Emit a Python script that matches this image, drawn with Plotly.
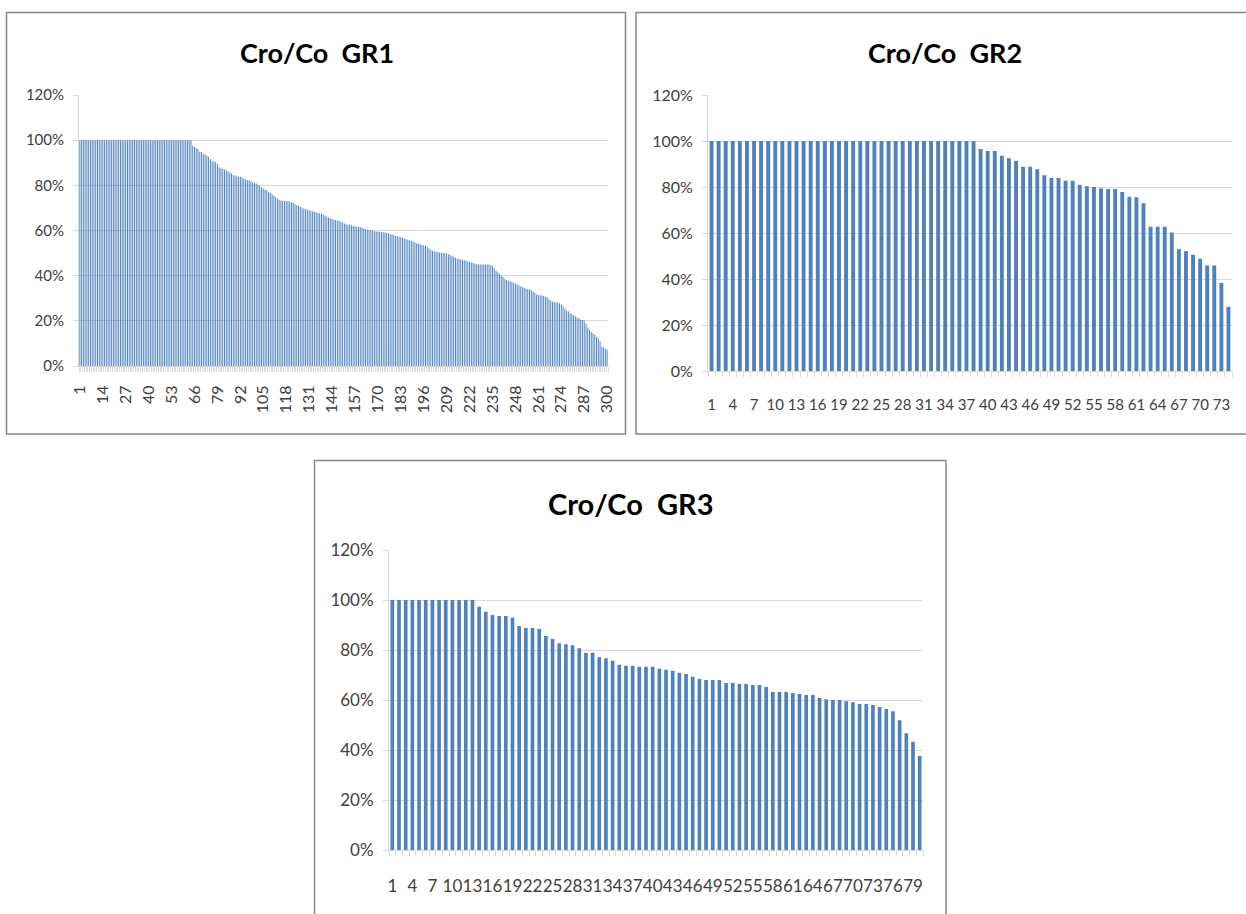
import plotly.graph_objects as go

W, H = 1246, 914

# ---------------- data ----------------
titles = ["Cro/Co  GR1", "Cro/Co  GR2", "Cro/Co  GR3"]

gr1_values = [
    100, 100, 100, 100, 100, 100, 100, 100, 100, 100,
    100, 100, 100, 100, 100, 100, 100, 100, 100, 100,
    100, 100, 100, 100, 100, 100, 100, 100, 100, 100,
    100, 100, 100, 100, 100, 100, 100, 100, 100, 100,
    100, 100, 100, 100, 100, 100, 100, 100, 100, 100,
    100, 100, 100, 100, 100, 100, 100, 100, 100, 100,
    100, 100, 100, 100, 97.5, 97, 96.5, 96, 95, 94.8,
    94, 93.6, 93.2, 92.5, 91.5, 90.7, 90.6, 90.3, 89.5, 88,
    87.5, 87.2, 87, 86.6, 86.2, 85.7, 85.2, 84.6, 84.3, 84,
    83.9, 83.8, 83.5, 83, 82.6, 82.4, 82.2, 81.8, 81.4, 81.1,
    80.8, 80.4, 79.8, 79.2, 78.6, 78.2, 77.8, 77.2, 76.7, 76.1,
    75.5, 74.8, 74.2, 73.6, 73.3, 73.2, 73.1, 73, 72.9, 72.7,
    72.5, 72.3, 71.6, 71.2, 70.9, 70.5, 70.1, 69.7, 69.4, 69.2,
    69, 68.8, 68.5, 68.3, 68.1, 67.8, 67.6, 67.3, 67, 66.6,
    66.2, 65.8, 65.4, 65.1, 64.9, 64.7, 64.5, 64.2, 63.9, 63.5,
    63.1, 62.8, 62.6, 62.5, 62.3, 62.1, 61.9, 61.7, 61.6, 61.5,
    61.2, 60.9, 60.6, 60.4, 60.2, 60.1, 60, 59.8, 59.6, 59.5,
    59.4, 59.3, 59.2, 59.1, 59, 58.8, 58.5, 58.2, 57.9, 57.6,
    57.4, 57.2, 57, 56.8, 56.5, 56.2, 55.9, 55.7, 55.3, 55,
    54.7, 54.4, 54.1, 53.9, 53.6, 53.4, 53.2, 52.6, 52, 51.4,
    51, 50.8, 50.6, 50.4, 50.3, 50.2, 50, 49.9, 49.8, 49.5,
    49.1, 48.7, 48.3, 47.9, 47.6, 47.4, 47.2, 47, 46.8, 46.6,
    46.4, 46.1, 45.8, 45.6, 45.3, 45.1, 45, 44.9, 44.9, 44.9,
    44.9, 44.9, 44.9, 44.7, 44.3, 43.3, 42.2, 41.5, 40.8, 40.1,
    39.4, 38.6, 38.1, 37.8, 37.5, 37.2, 36.8, 36.5, 36.1, 35.7,
    35.3, 34.9, 34.6, 34.3, 34, 33.9, 33.5, 33, 32.4, 31.7,
    31.4, 31.3, 31.2, 31, 30.7, 30.4, 29.6, 28.9, 28.5, 28.3,
    28.2, 28.1, 27.8, 27.3, 26.5, 25.5, 24.6, 24.2, 23.5, 23,
    22.5, 22, 21.5, 21, 20.6, 20.4, 20.2, 18.8, 17.2, 16,
    15.2, 14.5, 13.8, 12.9, 12.2, 11, 8.6, 8.2, 7.8, 7.3,
]

gr2_values = [
    100, 100, 100, 100, 100, 100, 100, 100, 100, 100,
    100, 100, 100, 100, 100, 100, 100, 100, 100, 100,
    100, 100, 100, 100, 100, 100, 100, 100, 100, 100,
    100, 100, 100, 100, 100, 100, 100, 100, 96.5, 95.6,
    95.6, 93.6, 92.5, 91.3, 88.8, 88.8, 87.7, 85.1, 83.9, 83.9,
    82.7, 82.7, 81.0, 80.3, 80.0, 79.4, 79.1, 79.1, 77.8, 75.8,
    75.5, 72.9, 62.7, 62.7, 62.7, 60.2, 53.0, 52.1, 50.5, 48.8,
    45.9, 45.9, 38.3, 27.9,
]

gr3_values = [
    100, 100, 100, 100, 100, 100, 100, 100, 100, 100,
    100, 100, 100, 97.3, 95.3, 94.0, 93.6, 93.6, 92.9, 89.6,
    88.8, 88.8, 88.4, 85.6, 84.4, 82.7, 82.3, 81.9, 80.7, 78.9,
    78.9, 77.1, 76.7, 75.7, 74.1, 73.7, 73.7, 73.3, 73.3, 73.3,
    72.5, 72.1, 71.7, 70.9, 70.4, 69.3, 68.4, 68.0, 68.0, 68.0,
    66.8, 66.8, 66.4, 66.4, 66.0, 66.0, 65.2, 63.2, 63.2, 63.2,
    62.8, 62.4, 62.0, 62.0, 60.8, 60.3, 60.0, 60.0, 59.5, 59.1,
    58.4, 58.4, 58.0, 57.2, 56.4, 55.5, 51.9, 46.7, 43.3, 37.6,
]

gr1_ticks = [1, 14, 27, 40, 53, 66, 79, 92, 105, 118, 131, 144, 157, 170,
             183, 196, 209, 222, 235, 248, 261, 274, 287, 300]
gr2_ticks = [1, 4, 7, 10, 13, 16, 19, 22, 25, 28, 31, 34, 37, 40, 43, 46,
             49, 52, 55, 58, 61, 64, 67, 70, 73]
gr3_ticks = [1, 4, 7, 10, 13, 16, 19, 22, 25, 28, 31, 34, 37, 40, 43, 46,
             49, 52, 55, 58, 61, 64, 67, 70, 73, 76, 79]
y_ticks = [0, 20, 40, 60, 80, 100, 120]

# ---------------- styling ----------------
FONT = "Lato, sans-serif"
BAR = "#4F81BD"
GRID = "#D9D9D9"
TXT = "#404040"
BORDER = "#888888"


def px_x(p):
    return p / W


def px_y(p):
    return 1 - p / H


panels = [
    dict(values=gr1_values, ticks=gr1_ticks, dom_x=(79, 608), dom_y=(95, 366),
         angle=-90, xfont=16, yfont=15, standoff=12, title_xy=(316.5, 52), tfont=27),
    dict(values=gr2_values, ticks=gr2_ticks, dom_x=(708, 1232), dom_y=(95, 371),
         angle=0, xfont=15, yfont=16, standoff=20, title_xy=(945, 52), tfont=27),
    dict(values=gr3_values, ticks=gr3_ticks, dom_x=(389, 923), dom_y=(550, 850),
         angle=0, xfont=17, yfont=17, standoff=21, title_xy=(631, 503), tfont=29),
]

fig = go.Figure()
annotations = []
for i, p in enumerate(panels):
    n = i + 1
    xa = "x" if n == 1 else f"x{n}"
    ya = "y" if n == 1 else f"y{n}"
    xs = list(range(1, len(p["values"]) + 1))
    fig.add_trace(go.Bar(x=xs, y=p["values"], marker=dict(color=BAR, line=dict(width=0)),
                         xaxis=xa, yaxis=ya, showlegend=False, hoverinfo="x+y"))
    xkey = "xaxis" if n == 1 else f"xaxis{n}"
    ykey = "yaxis" if n == 1 else f"yaxis{n}"
    fig.layout[xkey] = dict(
        domain=[px_x(p["dom_x"][0]), px_x(p["dom_x"][1])],
        anchor=ya, range=[0.5, len(p["values"]) + 0.5], automargin=False,
        tickmode="array", tickvals=p["ticks"], ticktext=[str(t) for t in p["ticks"]],
        tickangle=p["angle"], ticks="", showgrid=False, zeroline=False,
        showline=True, linecolor=GRID, linewidth=1,
        tickfont=dict(family=FONT, size=p["xfont"], color=TXT),
        ticklabelstandoff=p["standoff"],
        minor=dict(tick0=0.5, dtick=1, ticks="outside", ticklen=5,
                   tickcolor=GRID, tickwidth=1, showgrid=False),
        fixedrange=True,
    )
    fig.layout[ykey] = dict(
        domain=[px_y(p["dom_y"][1]), px_y(p["dom_y"][0])],
        anchor=xa, range=[0, 120], automargin=False,
        tickmode="array", tickvals=y_ticks,
        ticktext=[f"{v}%" for v in y_ticks],
        showgrid=True, gridcolor=GRID, gridwidth=1, zeroline=False,
        showline=True, linecolor=GRID, linewidth=1,
        ticks="outside", ticklen=5, tickcolor=GRID,
        tickfont=dict(family=FONT, size=p["yfont"], color=TXT),
        ticklabelstandoff=6, fixedrange=True,
    )
    annotations.append(dict(
        text=f"<b>{titles[i]}</b>", xref="paper", yref="paper",
        x=px_x(p["title_xy"][0]), y=px_y(p["title_xy"][1]),
        xanchor="center", yanchor="middle", showarrow=False,
        font=dict(family=FONT, size=p["tfont"], color="#000000"),
    ))

shapes = [
    dict(type="rect", xref="paper", yref="paper", x0=px_x(6.5), x1=px_x(625.5),
         y0=px_y(434), y1=px_y(12.5), line=dict(color=BORDER, width=1.5)),
    dict(type="rect", xref="paper", yref="paper", x0=px_x(636), x1=px_x(1270),
         y0=px_y(434), y1=px_y(12.5), line=dict(color=BORDER, width=1.5)),
    dict(type="rect", xref="paper", yref="paper", x0=px_x(314.5), x1=px_x(946),
         y0=px_y(940), y1=px_y(460.5), line=dict(color=BORDER, width=1.5)),
]

fig.update_layout(
    width=W, height=H,
    margin=dict(l=0, r=0, t=0, b=0, pad=0, autoexpand=False),
    paper_bgcolor="white", plot_bgcolor="white",
    bargap=0.45, annotations=annotations, shapes=shapes,
    font=dict(family=FONT, color=TXT),
)

fig.write_html(
    "out.html",
    config={"staticPlot": True},
    post_script=(
        "document.documentElement.style.margin='0';"
        "document.body.style.margin='0';"
        "document.body.style.padding='0';"
        "document.body.style.overflow='hidden';"
        "var d=document.getElementById('{plot_id}');"
        "d.style.position='fixed';d.style.left='0px';d.style.top='0px';"
    ),
)
